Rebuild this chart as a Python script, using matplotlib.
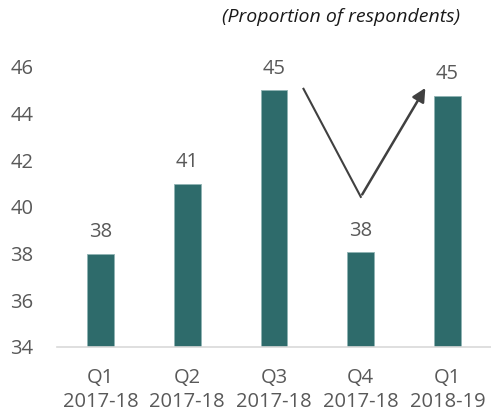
import matplotlib.pyplot as plt
import numpy as np

plt.rcParams['font.family'] = ['Open Sans', 'DejaVu Sans']

quarters = ['Q1\n2017-18', 'Q2\n2017-18', 'Q3\n2017-18', 'Q4\n2017-18', 'Q1\n2018-19']
share = [38.0, 41.0, 45.0, 38.05, 44.75]

grey = '#595959'
teal = '#2E6B6B'

fig = plt.figure(figsize=(4.91, 4.18), dpi=100)
ax = fig.add_axes([0.116, 0.17, 0.884, 0.67])

x = np.arange(len(quarters))
ax.bar(x, share, width=0.31, color=teal, edgecolor='#8fb3b3', linewidth=0.6, zorder=2)
for xi, v in zip(x, share):
    ax.text(xi, v + 0.5, f'{v:.0f}', ha='center', va='bottom', fontsize=14.5, color=grey, clip_on=False)

ax.set_xlim(-0.5, len(quarters) - 0.5)
ax.set_ylim(34, 46)
ax.set_yticks(range(34, 47, 2))
ax.set_xticks(x)
ax.set_xticklabels(quarters, fontsize=14.5, color=grey, linespacing=1.3)
ax.tick_params(axis='y', labelsize=14.5, labelcolor=grey, length=0, pad=17)
ax.tick_params(axis='x', length=0, pad=15)

for s in ['top', 'right', 'left']:
    ax.spines[s].set_visible(False)
ax.spines['bottom'].set_color('#d9d9d9')
ax.spines['bottom'].set_linewidth(1.2)

# V-shaped trend arrow between Q3 and the latest quarter
ax.plot([2.34, 3.0], [45.06, 40.43], color='#404040', lw=1.5, clip_on=False, zorder=3)
ax.annotate('', xy=(3.76, 45.2), xytext=(3.0, 40.43),
            arrowprops=dict(arrowstyle='-|>,head_length=0.8,head_width=0.4', color='#404040', lw=1.8),
            annotation_clip=False)

fig.text(0.937, 0.96, '(Proportion of respondents)', ha='right', va='center',
         fontsize=14, style='italic', color='#1a1a1a')

fig.savefig('out.png', dpi=100)
